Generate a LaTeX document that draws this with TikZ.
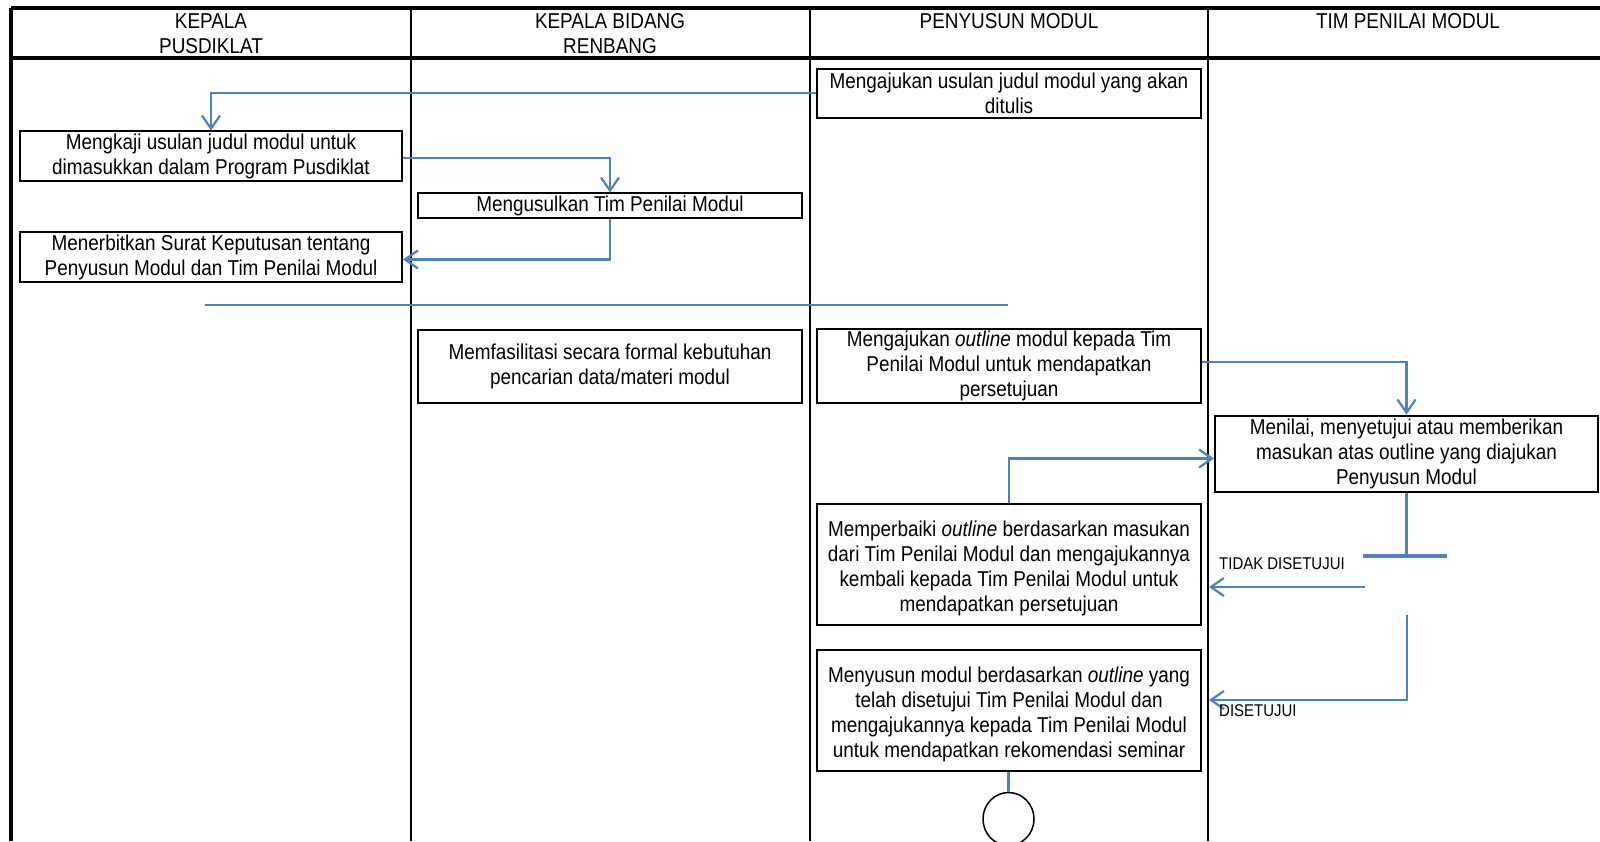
\documentclass[tikz,border=0pt]{standalone}
\usepackage{fontspec}
\setmainfont[FakeStretch=0.88]{Liberation Sans}
\usetikzlibrary{arrows.meta, shapes.geometric}

\definecolor{flowblue}{RGB}{79,129,189}
\tikzset{
  actbox/.style={draw=black, line width=2pt, fill=white, align=center, inner sep=2pt,
    minimum width=384pt, minimum height=49pt},
  lanehead/.style={align=center, inner sep=0pt},
  flow/.style={draw=flowblue, line width=2.2pt, -{Straight Barb[length=13pt,width=18pt]}},
  flowline/.style={draw=flowblue, line width=2.2pt},
  lane/.style={line width=1.5pt},
  frame/.style={line width=3.5pt},
  guard/.style={font=\fontsize{17}{20}\selectfont, anchor=west, inner sep=0pt}
}

\begin{document}
\begin{tikzpicture}[x=1pt,y=-1pt,font=\fontsize{21.5}{25}\selectfont]

\useasboundingbox (0,0) rectangle (1600,841);

% lanes
\draw[frame] (11,8) -- (1600,8);
\draw[frame] (11,58) -- (1600,58);
\draw[frame] (11,8) -- (11,841);
\draw[lane] (411,8) -- (411,841);
\draw[lane] (810,8) -- (810,841);
\draw[lane] (1208,8) -- (1208,841);

\node[lanehead] (hkepala) at (211,33.5) {KEPALA\\PUSDIKLAT};
\node[lanehead] (hbidang) at (610,33.5) {KEPALA BIDANG\\RENBANG};
\node[lanehead] (hsusun) at (1009,21.5) {PENYUSUN MODUL};
\node[lanehead] (hnilai) at (1408,21.5) {TIM PENILAI MODUL};

% activities
\node[actbox] (usul) at (1009,93) {Mengajukan usulan judul modul yang akan\\ditulis};
\node[actbox, minimum width=382pt] (kaji) at (211,156) {Mengkaji usulan judul modul untuk\\dimasukkan dalam Program Pusdiklat};
\node[actbox, minimum height=24pt] (timnilai) at (610,205.5) {Mengusulkan Tim Penilai Modul};
\node[actbox, minimum width=382pt] (sk) at (211,257) {Menerbitkan Surat Keputusan tentang\\Penyusun Modul dan Tim Penilai Modul};
\node[actbox, minimum height=73pt] (fasilitasi) at (610,366) {Memfasilitasi secara formal kebutuhan\\pencarian data/materi modul};
\node[actbox, minimum height=73pt] (outline) at (1009,366) {Mengajukan \textit{outline} modul kepada Tim\\Penilai Modul untuk mendapatkan\\persetujuan};
\node[actbox, minimum width=383pt, minimum height=76pt] (nilai) at (1406.5,453.5) {Menilai, menyetujui atau memberikan\\masukan atas outline yang diajukan\\Penyusun Modul};
\node[actbox, minimum height=121pt] (perbaiki) at (1009,564) {\mbox{}\\[-1pt]Memperbaiki \textit{outline} berdasarkan masukan\\dari Tim Penilai Modul dan mengajukannya\\kembali kepada Tim Penilai Modul untuk\\mendapatkan persetujuan};
\node[actbox, minimum height=121pt] (susun) at (1009,710) {\mbox{}\\[-1pt]Menyusun modul berdasarkan \textit{outline} yang\\telah disetujui Tim Penilai Modul dan\\mengajukannya kepada Tim Penilai Modul\\untuk mendapatkan rekomendasi seminar};
\node[draw, ellipse, inner sep=0pt, line width=1.5pt, minimum width=51pt, minimum height=53pt] (akhir) at (1008.5,819) {};

% flows
\draw[flow] (usul.west) -| (kaji.north);
\draw[flow] ([yshift=-2pt]kaji.east) -| (timnilai.north);
\draw[flow] (timnilai.south) |- ([yshift=-2.5pt]sk.east);
\draw[flowline] (205,305) -- (1008,305);
\draw[flow] ([yshift=4pt]outline.east) -| (nilai.north);
\draw[flow] (perbaiki.north) |- ([yshift=-5pt]nilai.west);

% decision
\coordinate (keputusan) at (1406.5,556);
\coordinate (tidak) at (1365,587);
\coordinate (setuju) at (1407,615);
\draw[flowline] (nilai.south) -- (keputusan);
\draw[draw=flowblue, line width=3.2pt] (1363,556) -- (1447,556);
\draw[flow, shorten >=7pt] (tidak) -- (perbaiki.east |- tidak);
\node[guard] (ltidak) at (1219,564) {TIDAK DISETUJUI};
\draw[flow, shorten >=7pt] (setuju) |- ([yshift=10pt]susun.east);
\node[guard] (lsetuju) at (1219,711) {DISETUJUI};
\draw[flowline] (susun.south -| akhir.north) -- (akhir.north);
\end{tikzpicture}
\end{document}
